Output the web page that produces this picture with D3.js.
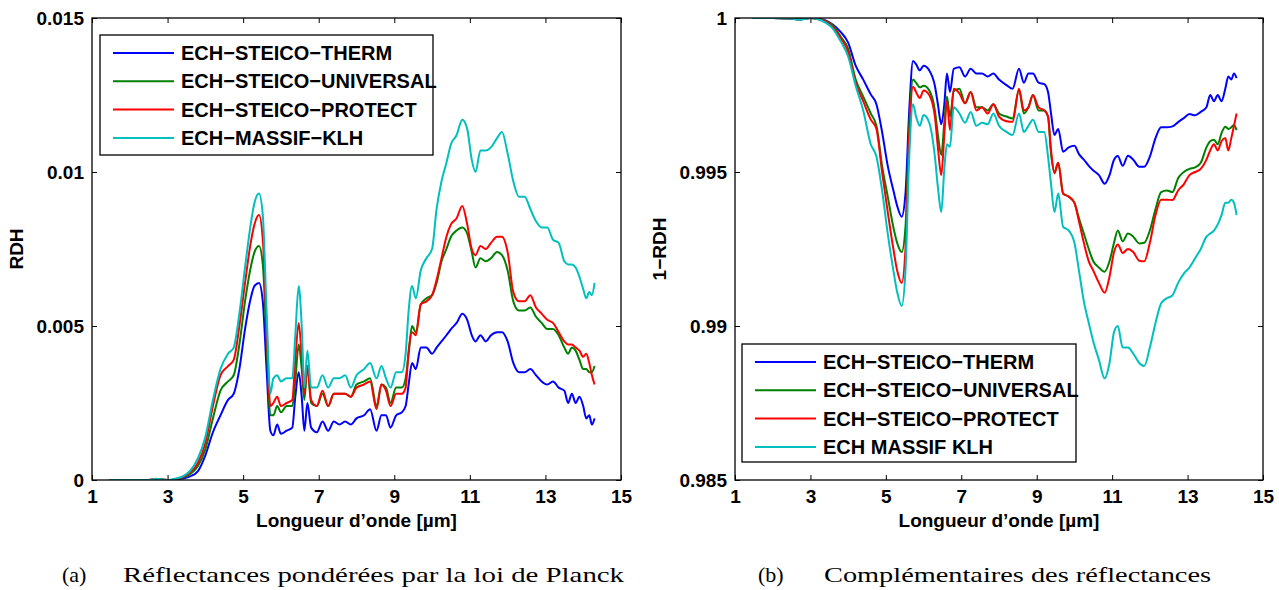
<!DOCTYPE html>
<html>
<head>
<meta charset="utf-8">
<script src="https://cdn.jsdelivr.net/npm/d3@7"></script>
<style>
  html, body { margin: 0; padding: 0; background: #fff; }
  svg { display: block; }
  .tick text { font-family: "Liberation Sans", Arial, sans-serif; font-weight: bold; font-size: 19px; fill: #000; }
</style>
</head>
<body>
<svg id="chart" width="1279" height="590"></svg>
<script>
// ---------- DATA ----------
const wavelengths = [
  1.45, 2.0, 2.5, 2.7, 3.0, 3.2, 3.4, 3.6, 3.8, 4.0,
  4.2, 4.4, 4.6, 4.75, 4.9, 5.05, 5.2, 5.3, 5.42, 5.52,
  5.62, 5.72, 5.8, 5.9, 6.0, 6.15, 6.3, 6.38, 6.47, 6.55,
  6.62, 6.7, 6.8, 6.95, 7.1, 7.25, 7.4, 7.55, 7.7, 7.85,
  8.0, 8.2, 8.36, 8.53, 8.66, 8.78, 8.9, 9.05, 9.2, 9.3,
  9.38, 9.47, 9.57, 9.7, 9.85, 10.0, 10.12, 10.25, 10.38, 10.5,
  10.65, 10.8, 10.93, 11.05, 11.15, 11.28, 11.42, 11.56, 11.72, 11.85,
  12.0, 12.15, 12.3, 12.45, 12.6, 12.75, 12.9, 13.05, 13.2, 13.35,
  13.5, 13.6, 13.7, 13.8, 13.9, 14.0, 14.08, 14.16, 14.23, 14.3
];

const seriesNamesA = ["ECH−STEICO−THERM", "ECH−STEICO−UNIVERSAL", "ECH−STEICO−PROTECT", "ECH−MASSIF−KLH"];
const seriesNamesB = ["ECH−STEICO−THERM", "ECH−STEICO−UNIVERSAL", "ECH−STEICO−PROTECT", "ECH MASSIF KLH"];
const seriesColors = ["#0000ff", "#008000", "#ff0000", "#00bfbf"];

// (a) RDH weighted by Planck
const rdhTherm = [
  0, 0, 0, 0.00002, 0, 0.00001, 0.00005, 0.00012, 0.00028, 0.0008,
  0.00155, 0.0021, 0.0026, 0.0028, 0.0036, 0.0049, 0.0059, 0.0063, 0.0064, 0.0058,
  0.0036, 0.0016, 0.00145, 0.0018, 0.0015, 0.0016, 0.0017, 0.0027, 0.0035, 0.0027,
  0.0016, 0.0025, 0.0017, 0.00155, 0.0019, 0.0016, 0.0019, 0.0018, 0.0019, 0.0018,
  0.002, 0.0021, 0.0023, 0.0016, 0.0021, 0.0021, 0.0017, 0.0021, 0.0022, 0.0024,
  0.0031, 0.0038, 0.0036, 0.0043, 0.0043, 0.0041, 0.0043, 0.0045, 0.0047, 0.0049,
  0.0051, 0.0054, 0.0052, 0.0047, 0.0045, 0.0047, 0.0045, 0.0047, 0.0048, 0.0048,
  0.0045, 0.0038, 0.0035, 0.0035, 0.0036, 0.0034, 0.0032, 0.0031, 0.0032, 0.003,
  0.0029, 0.0025, 0.0028, 0.0025, 0.0027, 0.0024, 0.002, 0.0021, 0.0018, 0.002
];
const rdhUniversal = [
  0, 0, 0, 0.00003, 0, 0.00002, 0.00008, 0.0002, 0.00045, 0.001,
  0.002, 0.0029, 0.0032, 0.0034, 0.0044, 0.0058, 0.0069, 0.0074, 0.0076, 0.007,
  0.0045, 0.0021, 0.0021, 0.0024, 0.0022, 0.0024, 0.0024, 0.0032, 0.0044, 0.0036,
  0.0026, 0.0037, 0.0025, 0.0024, 0.0028, 0.0024, 0.0028, 0.0028, 0.0028, 0.0027,
  0.0031, 0.0032, 0.0033, 0.0024, 0.0031, 0.003, 0.0025, 0.003, 0.003, 0.0033,
  0.0041, 0.005, 0.0048, 0.0057, 0.0059, 0.006, 0.0064, 0.0071, 0.0075, 0.0079,
  0.0081, 0.0082, 0.008, 0.0074, 0.0069, 0.0072, 0.0071, 0.0072, 0.0074, 0.0073,
  0.0068, 0.0058, 0.0055, 0.0055, 0.0056, 0.0053, 0.0051, 0.0049, 0.0049, 0.0047,
  0.0043, 0.0041, 0.0043, 0.0042, 0.0039, 0.0036, 0.0036, 0.0035, 0.0035, 0.0037
];
const rdhProtect = [
  0, 0, 0, 0.00003, 0, 0.00002, 0.0001, 0.00025, 0.00055, 0.0012,
  0.0024, 0.0034, 0.0037, 0.0039, 0.005, 0.0064, 0.0077, 0.0083, 0.0086, 0.0078,
  0.005, 0.0024, 0.0025, 0.0027, 0.0024, 0.0025, 0.0026, 0.0039, 0.0051, 0.004,
  0.0028, 0.0037, 0.0026, 0.0024, 0.0029, 0.0024, 0.0028, 0.0028, 0.0028, 0.0027,
  0.003, 0.0031, 0.0032, 0.0023, 0.0031, 0.0029, 0.0024, 0.0028, 0.0028, 0.003,
  0.0042, 0.0048, 0.0047, 0.0057, 0.0058, 0.006, 0.0065, 0.0072, 0.0079, 0.0083,
  0.0085, 0.0089, 0.0083, 0.0075, 0.0073, 0.0076, 0.0075, 0.0077, 0.0079, 0.0079,
  0.0074, 0.0061, 0.0058, 0.0058, 0.006, 0.0056, 0.0054, 0.0052, 0.0051, 0.0048,
  0.0045, 0.0044, 0.0044, 0.0043, 0.0042, 0.004, 0.0041, 0.0038, 0.0034, 0.0031
];
const rdhKlh = [
  0, 0, 0, 0.00004, 0, 0.00004, 0.00012, 0.0003, 0.0007, 0.0014,
  0.0026, 0.0036, 0.0041, 0.0043, 0.0054, 0.0069, 0.0083, 0.009, 0.0093, 0.0086,
  0.0055, 0.0028, 0.0033, 0.0034, 0.0032, 0.0033, 0.0033, 0.0047, 0.0063, 0.005,
  0.003, 0.0042, 0.003, 0.003, 0.0034, 0.003, 0.0033, 0.0033, 0.0034, 0.003,
  0.0034, 0.0036, 0.0038, 0.0033, 0.0037, 0.0033, 0.003, 0.0035, 0.0035, 0.0041,
  0.0055, 0.0063, 0.0059, 0.0068, 0.0072, 0.0075, 0.0088, 0.0097, 0.0103, 0.0109,
  0.0112, 0.0117, 0.0114, 0.0104, 0.01, 0.0107, 0.0107, 0.0108, 0.0111, 0.0113,
  0.0106, 0.0097, 0.0092, 0.0092, 0.0088, 0.0084, 0.0082, 0.0082, 0.0078, 0.0077,
  0.0071, 0.007, 0.007, 0.0069, 0.0066, 0.0062, 0.0059, 0.0061, 0.006, 0.0064
];

// (b) 1 - RDH
const compTherm = [
  1.0, 1.0, 0.99998, 0.99996, 1.0, 0.99998, 0.99992, 0.99978, 0.99955, 0.9992,
  0.99845, 0.998, 0.99752, 0.9972, 0.9963, 0.9952, 0.9944, 0.9939, 0.99355, 0.9943,
  0.997, 0.9986, 0.9985, 0.9983, 0.99845, 0.9983, 0.9978, 0.9972, 0.99655, 0.9972,
  0.9982, 0.9976, 0.99835, 0.9984, 0.9981, 0.99835, 0.9982, 0.9982, 0.9981, 0.9982,
  0.998, 0.99782, 0.9977, 0.99835, 0.9979, 0.9982, 0.9982, 0.9979, 0.99785, 0.9976,
  0.9969, 0.9962, 0.9964, 0.99566, 0.9958, 0.99585, 0.99558, 0.9954, 0.9952, 0.99505,
  0.9949, 0.99462, 0.9949, 0.9954, 0.99552, 0.9952, 0.99553, 0.9954, 0.99517, 0.99517,
  0.9955, 0.9961, 0.99645, 0.99645, 0.99648, 0.99662, 0.99675, 0.99688, 0.99684, 0.99695,
  0.9971, 0.9975, 0.9973, 0.9975, 0.9973, 0.9977, 0.9981, 0.998, 0.9982, 0.99805
];
const compUniversal = [
  1.0, 1.0, 0.99998, 0.99995, 1.0, 0.99997, 0.9999, 0.99975, 0.9994, 0.999,
  0.998, 0.99745, 0.9969, 0.9965, 0.9952, 0.9942, 0.9932, 0.9927, 0.9924, 0.9932,
  0.9965, 0.998, 0.9979, 0.99775, 0.9978, 0.99765, 0.997, 0.9962, 0.99555, 0.9966,
  0.99745, 0.9968, 0.99762, 0.9977, 0.99723, 0.9976, 0.9971, 0.9971, 0.997, 0.9972,
  0.9969, 0.9968, 0.99674, 0.99766, 0.9969, 0.9971, 0.9975, 0.997, 0.997, 0.9968,
  0.9956, 0.995, 0.9953, 0.9943, 0.9942, 0.994, 0.9935, 0.993, 0.9925, 0.9921,
  0.9919, 0.99176, 0.9921, 0.9927, 0.9931, 0.99275, 0.993, 0.9929, 0.99268, 0.9927,
  0.9931, 0.9938, 0.99435, 0.9944, 0.99435, 0.9948, 0.995, 0.9951, 0.99515, 0.9953,
  0.9958, 0.996, 0.99605, 0.9959, 0.99626, 0.99647, 0.9964, 0.99645, 0.99653, 0.99636
];
const compProtect = [
  1.0, 1.0, 0.99998, 0.99995, 1.0, 0.99997, 0.99989, 0.9997, 0.99935, 0.9989,
  0.9979, 0.9973, 0.9967, 0.9964, 0.995, 0.9937, 0.9925, 0.9918, 0.9914, 0.9925,
  0.9962, 0.99777, 0.9976, 0.9974, 0.99765, 0.9975, 0.9968, 0.9958, 0.9949, 0.9962,
  0.9973, 0.99636, 0.9977, 0.99755, 0.99723, 0.9976, 0.997, 0.9971, 0.9969, 0.9972,
  0.9968, 0.99665, 0.99663, 0.9977, 0.997, 0.9971, 0.9975, 0.9971, 0.997, 0.9968,
  0.9957, 0.99496, 0.9953, 0.9943, 0.9942, 0.994, 0.9934, 0.9927, 0.9921, 0.9918,
  0.9914, 0.99108, 0.9916, 0.9924, 0.99265, 0.99237, 0.9925, 0.9924, 0.99212, 0.9921,
  0.9927, 0.9936, 0.9941, 0.9941, 0.99409, 0.9944, 0.9946, 0.9949, 0.995, 0.9951,
  0.9954, 0.9957, 0.9959, 0.9957, 0.996, 0.9961, 0.9957, 0.9961, 0.9965, 0.9969
];
const compKlh = [
  1.0, 1.0, 0.99998, 0.99994, 1.0, 0.99996, 0.99985, 0.99965, 0.99925, 0.99875,
  0.9978, 0.997, 0.9959, 0.9955, 0.9944, 0.993, 0.9918, 0.9911, 0.99065, 0.9918,
  0.9955, 0.9972, 0.9968, 0.9965, 0.99685, 0.9966, 0.9955, 0.9945, 0.9937, 0.9951,
  0.9959, 0.99582, 0.9971, 0.9969, 0.9966, 0.99695, 0.9965, 0.9966, 0.99655, 0.9969,
  0.9965, 0.9963, 0.9962, 0.9969, 0.9963, 0.9965, 0.9967, 0.9963, 0.9963, 0.9955,
  0.9946, 0.9937, 0.9943, 0.99322, 0.9931, 0.9927, 0.9918, 0.9908, 0.9901, 0.9895,
  0.9889, 0.9883, 0.9888, 0.9898, 0.99, 0.9893, 0.9893, 0.9891, 0.9888, 0.9887,
  0.9893, 0.9901, 0.99074, 0.9909, 0.991, 0.9914, 0.9917, 0.9919, 0.9922, 0.9925,
  0.9929, 0.993, 0.9931, 0.9933, 0.9936, 0.994, 0.994, 0.9941, 0.994, 0.9936
];

const xTicks = [1, 3, 5, 7, 9, 11, 13, 15];
const yTicksA = [0, 0.005, 0.01, 0.015];
const yTickLabelsA = ["0", "0.005", "0.01", "0.015"];
const yTicksB = [0.985, 0.99, 0.995, 1];
const yTickLabelsB = ["0.985", "0.99", "0.995", "1"];

const xLabel = "Longueur d’onde [µm]";
const yLabelA = "RDH";
const yLabelB = "1−RDH";
const captionTagA = "(a)";
const captionA = "Réflectances pondérées par la loi de Planck";
const captionTagB = "(b)";
const captionB = "Complémentaires des réflectances";

// ---------- DRAW ----------
const svg = d3.select("#chart");
const FONT = '"Liberation Sans", Arial, Helvetica, sans-serif';
const SERIF = '"Liberation Serif", "Times New Roman", serif';

function panel(opts) {
  const { left, top, width, height, yDomain, yTicks, yTickLabels, series, names, legend, yLabel } = opts;
  const g = svg.append("g").attr("transform", `translate(${left},${top})`);
  const x = d3.scaleLinear().domain([1, 15]).range([0, width]);
  const y = d3.scaleLinear().domain(yDomain).range([height, 0]);

  const clipId = "clip" + left;
  g.append("clipPath").attr("id", clipId).append("rect").attr("width", width).attr("height", height);

  // lines
  const line = d3.line().x(d => x(d[0])).y(d => y(d[1])).curve(d3.curveMonotoneX);
  series.forEach((vals, i) => {
    g.append("path")
      .datum(wavelengths.map((w, k) => [w, vals[k]]))
      .attr("clip-path", `url(#${clipId})`)
      .attr("fill", "none")
      .attr("stroke", seriesColors[i])
      .attr("stroke-width", 2)
      .attr("stroke-linejoin", "round")
      .attr("d", line);
  });

  // axes (ticks inward, MATLAB style on all sides)
  const bottom = g.append("g").attr("transform", `translate(0,${height})`)
    .call(d3.axisBottom(x).tickValues(xTicks).tickFormat(d3.format("d")).tickSize(-5).tickPadding(10));
  const topAx = g.append("g")
    .call(d3.axisTop(x).tickValues(xTicks).tickFormat("").tickSize(-5));
  const leftAx = g.append("g")
    .call(d3.axisLeft(y).tickValues(yTicks).tickFormat((d, i) => yTickLabels[i]).tickSize(-5).tickPadding(8));
  const rightAx = g.append("g").attr("transform", `translate(${width},0)`)
    .call(d3.axisRight(y).tickValues(yTicks).tickFormat("").tickSize(-5));
  [bottom, topAx, leftAx, rightAx].forEach(a => {
    a.select(".domain").remove();
    a.selectAll(".tick line").attr("stroke", "#000").attr("stroke-width", 1);
  });

  // frame
  g.append("rect").attr("x", 0).attr("y", 0).attr("width", width).attr("height", height)
    .attr("fill", "none").attr("stroke", "#000").attr("stroke-width", 1.3);

  // axis labels
  g.append("text")
    .attr("x", width / 2).attr("y", height + 47)
    .attr("text-anchor", "middle")
    .style("font-family", FONT).style("font-weight", "bold").style("font-size", "19px")
    .text(xLabel);
  g.append("text")
    .attr("transform", `translate(-69,${height / 2}) rotate(-90)`)
    .attr("text-anchor", "middle")
    .style("font-family", FONT).style("font-weight", "bold").style("font-size", "19px")
    .text(yLabel);

  // legend
  const lg = g.append("g").attr("transform", `translate(${legend.x - left},${legend.y - top})`);
  lg.append("rect").attr("width", legend.w).attr("height", legend.h)
    .attr("fill", "#fff").attr("stroke", "#000").attr("stroke-width", 1.3);
  names.forEach((n, i) => {
    const cy = 18 + i * 28.3;
    lg.append("line").attr("x1", 13).attr("x2", 74).attr("y1", cy).attr("y2", cy)
      .attr("stroke", seriesColors[i]).attr("stroke-width", 2);
    lg.append("text").attr("x", 81).attr("y", cy + 7)
      .style("font-family", FONT).style("font-weight", "bold").style("font-size", "20px")
      .text(n);
  });
}

panel({
  left: 92, top: 18, width: 529, height: 462,
  yDomain: [0, 0.015], yTicks: yTicksA, yTickLabels: yTickLabelsA,
  series: [rdhTherm, rdhUniversal, rdhProtect, rdhKlh], names: seriesNamesA,
  legend: { x: 100, y: 35, w: 333, h: 120 }, yLabel: yLabelA
});
panel({
  left: 735, top: 18, width: 528, height: 462,
  yDomain: [0.985, 1], yTicks: yTicksB, yTickLabels: yTickLabelsB,
  series: [compTherm, compUniversal, compProtect, compKlh], names: seriesNamesB,
  legend: { x: 742, y: 344, w: 334, h: 118 }, yLabel: yLabelB
});

// captions
function caption(tag, text, xTag, xText, widthText) {
  svg.append("text").attr("x", xTag).attr("y", 582)
    .style("font-family", SERIF).style("font-size", "22px").text(tag);
  svg.append("text").attr("x", xText).attr("y", 582)
    .attr("textLength", widthText).attr("lengthAdjust", "spacingAndGlyphs")
    .style("font-family", SERIF).style("font-size", "22px").text(text);
}
caption(captionTagA, captionA, 62, 123, 501);
caption(captionTagB, captionB, 758, 824, 387);
</script>
</body>
</html>
